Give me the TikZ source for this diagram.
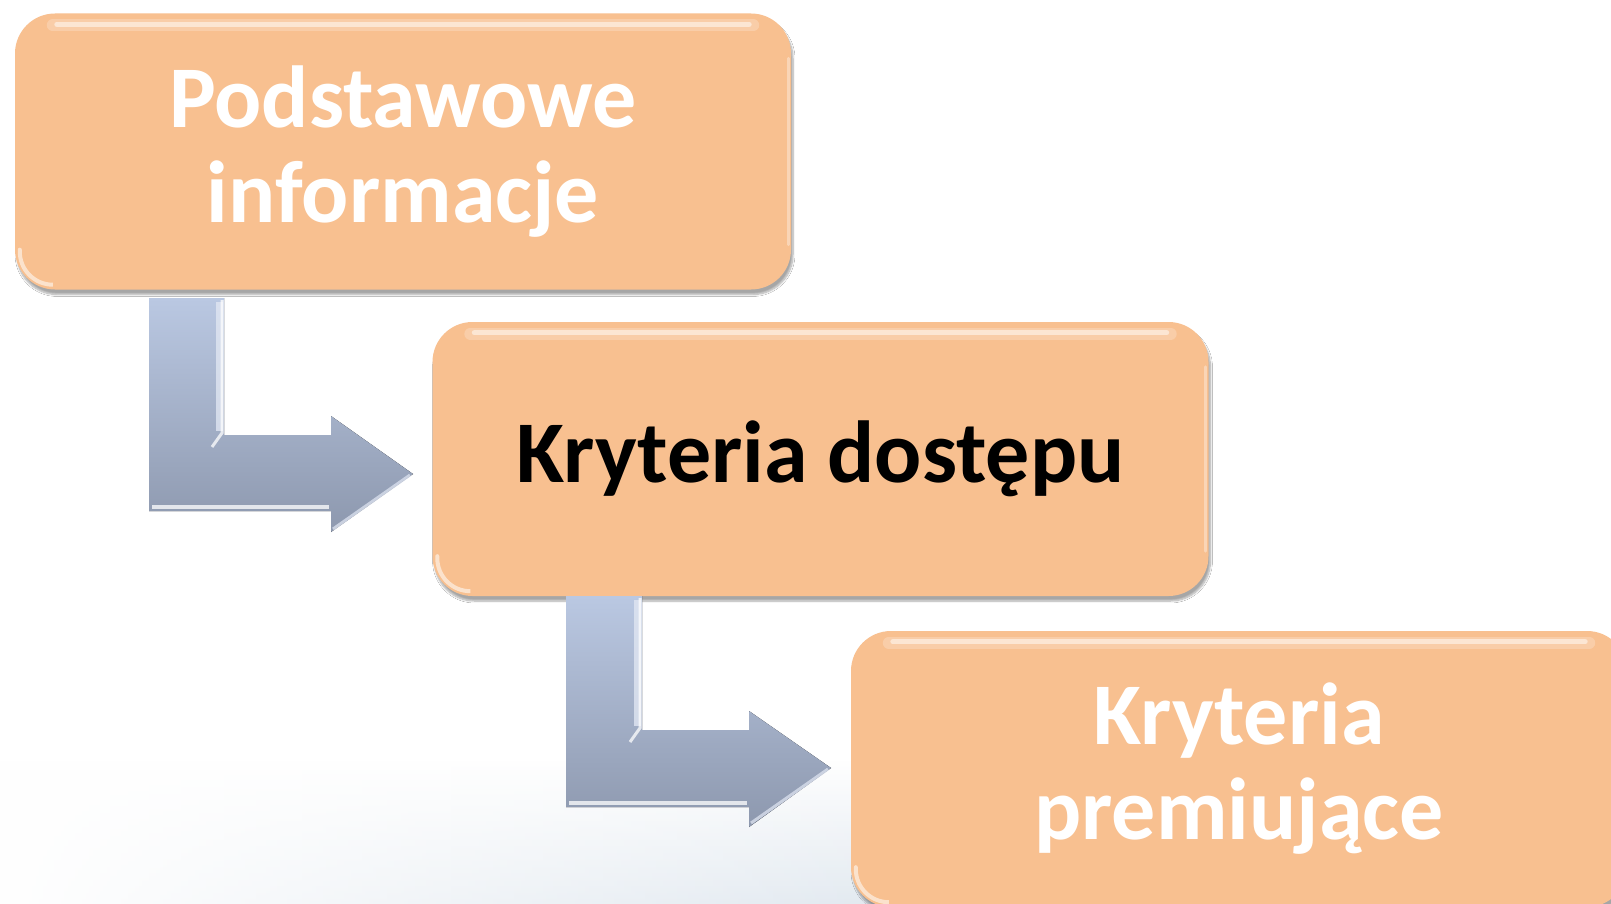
\documentclass[tikz,border=0pt]{standalone}
\usepackage{fontspec}
\setmainfont{Carlito}
\usetikzlibrary{shadows.blur,fadings,calc}
\definecolor{boxfill}{RGB}{248,192,144}
\definecolor{arrtop}{RGB}{186,200,226}
\definecolor{arrbot}{RGB}{141,152,174}
\definecolor{wisp}{RGB}{214,224,234}
\begin{document}
\begin{tikzpicture}[x=1pt,y=-1pt,
  stepbox/.style={rounded corners=40pt, fill=boxfill, draw=none,
    minimum width=776pt, minimum height=276pt, align=center, inner sep=0pt,
    font=\fontsize{88}{95}\selectfont\bfseries,
    blur shadow={shadow xshift=2pt, shadow yshift=-5pt, shadow opacity=35, shadow blur steps=8}},
  bentarrow/.style={top color=arrtop, bottom color=arrbot, draw=none},
  hilite/.style={white, opacity=0.75, line width=3pt},
  bevel/.style={white!55!arrtop, opacity=0.8, line width=7pt},
  tophi/.style={white, line cap=round}]
\useasboundingbox (0,0) rectangle (1611,904);
\fill[white] (0,0) rectangle (1611,904);
% faint background wisps
\fill[wisp, path fading=north, opacity=0.7] (0,760) rectangle (900,904);
\fill[white, path fading=east] (0,700) rectangle (900,904);
\begin{scope}
\clip (0,0) rectangle (1611,904);
% boxes
\node[stepbox, text=white] (b1) at (403,151.5) {Podstawowe\\informacje};
\node[stepbox, text=black, minimum height=274pt] (b2) at (820.5,459) {Kryteria dostępu};
\node[stepbox, text=white] (b3) at (1239,769) {Kryteria\\premiujące};
\foreach \b in {b1,b2,b3}{
  \draw[tophi, line width=12pt, opacity=0.22] ($(\b.north west)+(38,12)$) -- ($(\b.north east)+(-38,12)$);
  \draw[tophi, line width=5pt, opacity=0.5] ($(\b.north west)+(42,11)$) -- ($(\b.north east)+(-42,11)$);
  \draw[tophi, line width=4pt, opacity=0.55, rounded corners=33pt]
    ($(\b.south west)+(5,-40)$) -- ($(\b.south west)+(5,-5)$) -- ($(\b.south west)+(36,-5)$);
  \draw[tophi, line width=3pt, opacity=0.35] ($(\b.north east)+(-3,45)$) -- ($(\b.south east)+(-3,-45)$);
}
% arrow 1
\fill[bentarrow] (149,298) -- (224,298) -- (224,435) -- (331,435) -- (331,416)
  -- (413,474) -- (331,532) -- (331,511) -- (149,511) -- cycle;
\draw[bevel] (219,302) -- (219,431);
\draw[hilite] (222,300) -- (222,433) -- (212,447);
\draw[hilite, line width=4pt] (152,507) -- (329,507);
\draw[hilite, white!50!arrtop] (333,529) -- (410,475);
% arrow 2
\fill[bentarrow] (566,596) -- (642,596) -- (642,730) -- (749,730) -- (749,711)
  -- (831,768) -- (749,827) -- (749,807) -- (566,807) -- cycle;
\draw[bevel] (637,600) -- (637,726);
\draw[hilite] (640,598) -- (640,728) -- (630,742);
\draw[hilite, line width=4pt] (569,803) -- (747,803);
\draw[hilite, white!50!arrtop] (751,823) -- (828,769);
\end{scope}
\end{tikzpicture}
\end{document}
